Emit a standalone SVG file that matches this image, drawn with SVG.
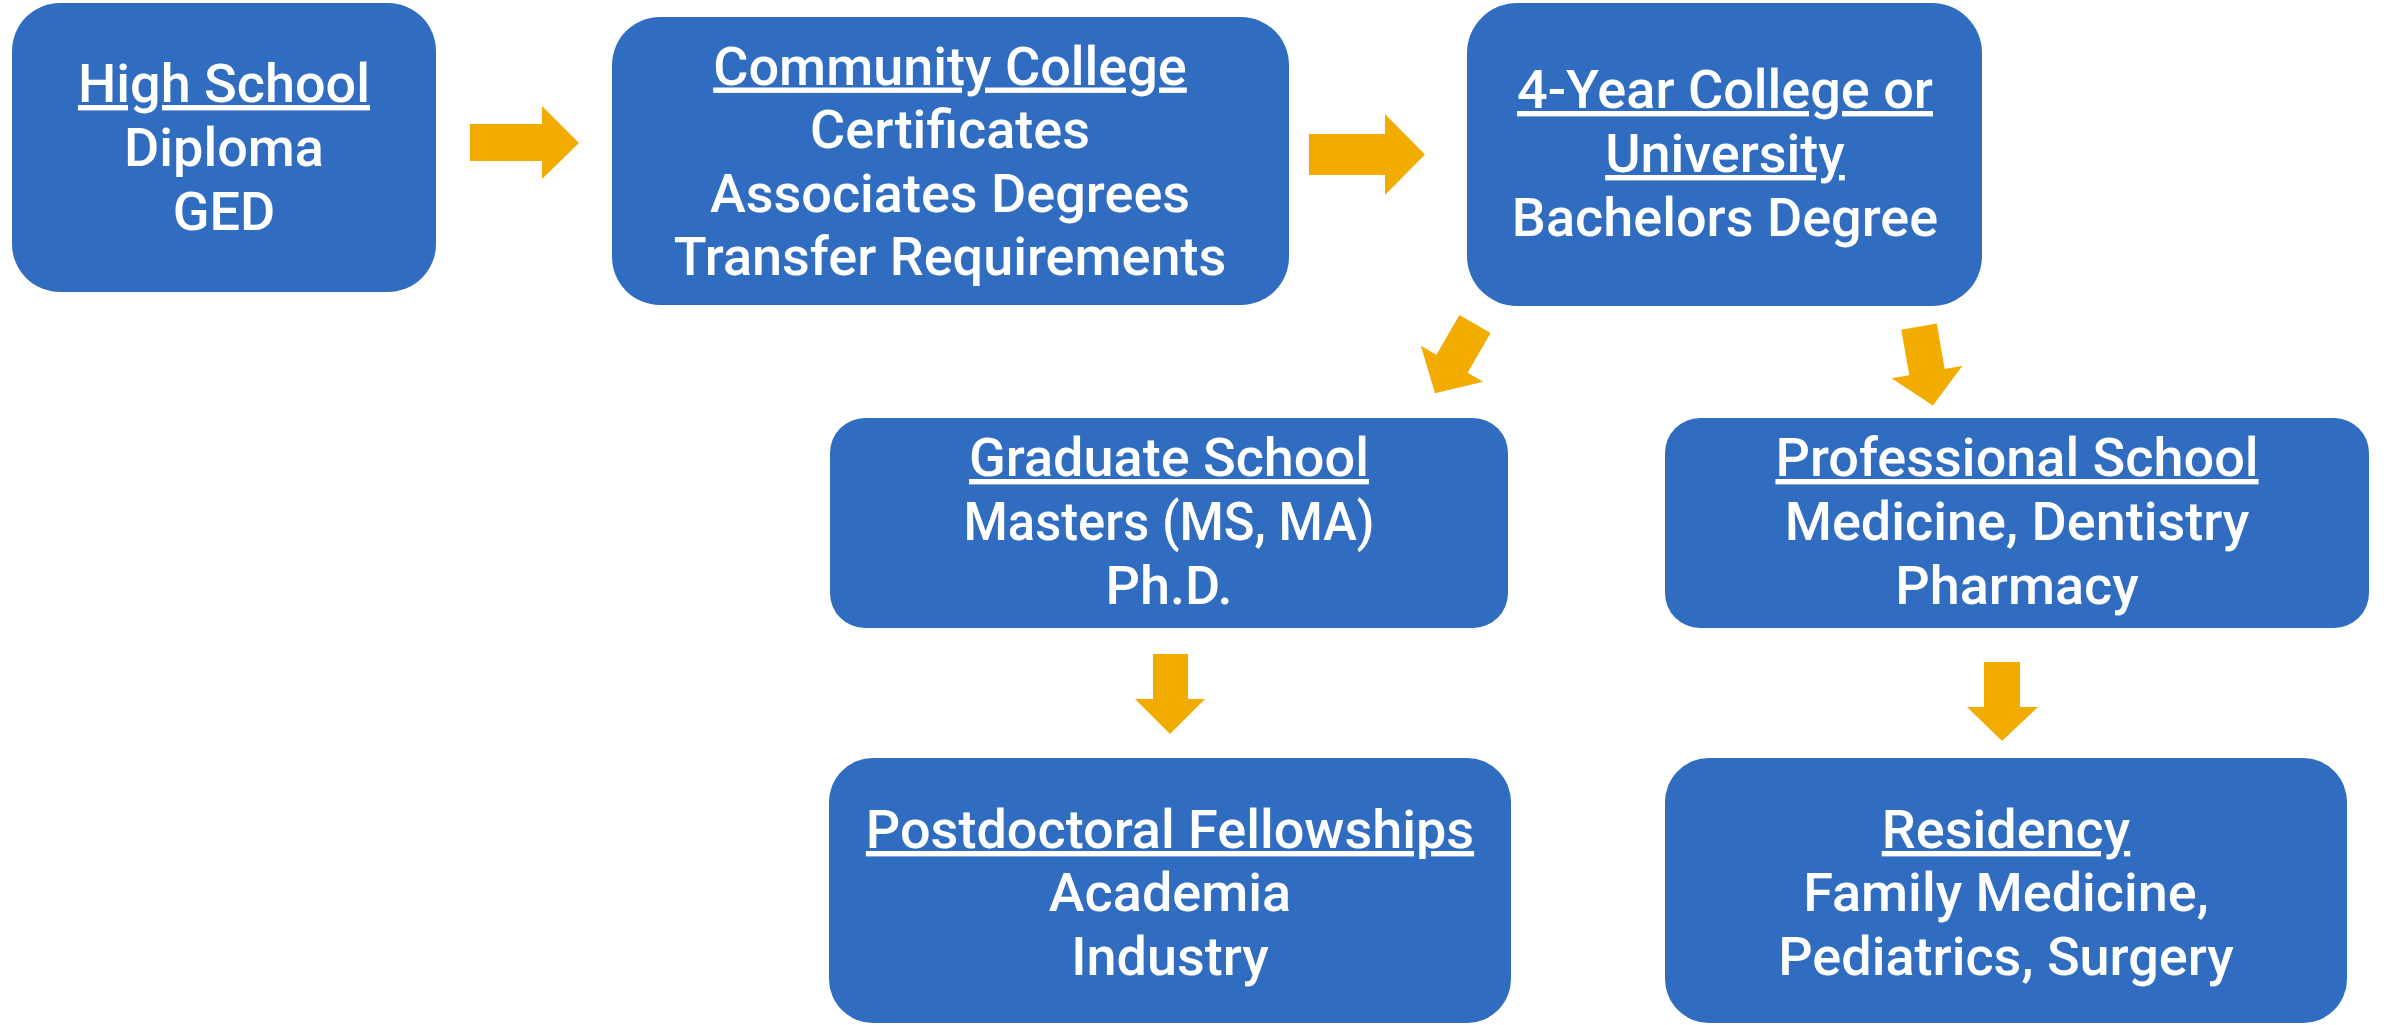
<svg xmlns="http://www.w3.org/2000/svg" width="2384" height="1025" viewBox="0 0 2384 1025">
  <style>
    .box { fill: #306DC1; }
    .arrow { fill: #F2AC00; }
    text { font-family: Roboto, "Liberation Sans", Arial, sans-serif; font-weight: 500; font-size: 54px; fill: #FFFFFF; text-anchor: middle; }
    .u { text-decoration: underline; }
  </style>
  <defs>
    <path id="darrow" d="M-18,0 H18 V46 H36 L0,80 L-36,46 H-18 Z"/>
  </defs>
  <rect width="2384" height="1025" fill="#FFFFFF"/>

  <g id="connectors">
    <path class="arrow" d="M470,124 H542 V106 L579,143 L542,179 V161 H470 Z"/>
    <path class="arrow" d="M1309,134 H1385 V114 L1425,154.5 L1385,195 V175 H1309 Z"/>
    <use class="arrow" href="#darrow" transform="translate(1475,324) rotate(30)"/>
    <use class="arrow" href="#darrow" transform="translate(1919,326.7) rotate(-10)"/>
    <path class="arrow" d="M1153,654 H1188 V699 H1205 L1170,734 L1135,699 H1153 Z"/>
    <path class="arrow" d="M1984,662 H2020 V707 H2038 L2002,741 L1967,707 H1984 Z"/>
  </g>

  <g id="high-school">
    <rect class="box" x="12" y="3" width="424" height="289" rx="48"/>
    <text x="224" y="102" class="u">High School</text>
    <text x="224" y="166">Diploma</text>
    <text x="224" y="230">GED</text>
  </g>

  <g id="community-college">
    <rect class="box" x="612" y="17" width="677" height="288" rx="48"/>
    <text x="950" y="84.5" class="u">Community College</text>
    <text x="950" y="148">Certificates</text>
    <text x="950" y="211.5">Associates Degrees</text>
    <text x="950" y="275">Transfer Requirements</text>
  </g>

  <g id="four-year-college">
    <rect class="box" x="1467" y="3" width="515" height="303" rx="50"/>
    <text x="1725" y="108" class="u">4-Year College or</text>
    <text x="1725" y="172" class="u">University</text>
    <text x="1725" y="236">Bachelors Degree</text>
  </g>

  <g id="graduate-school">
    <rect class="box" x="830" y="418" width="678" height="210" rx="35"/>
    <text x="1169" y="476" class="u">Graduate School</text>
    <text x="1169" y="540" textLength="411" lengthAdjust="spacingAndGlyphs">Masters (MS, MA)</text>
    <text x="1169" y="604">Ph.D.</text>
  </g>

  <g id="professional-school">
    <rect class="box" x="1665" y="418" width="704" height="210" rx="35"/>
    <text x="2017" y="476" class="u">Professional School</text>
    <text x="2017" y="540">Medicine, Dentistry</text>
    <text x="2017" y="604">Pharmacy</text>
  </g>

  <g id="postdoctoral">
    <rect class="box" x="829" y="758" width="682" height="265" rx="44"/>
    <text x="1170" y="848" class="u">Postdoctoral Fellowships</text>
    <text x="1170" y="911">Academia</text>
    <text x="1170" y="975">Industry</text>
  </g>

  <g id="residency">
    <rect class="box" x="1665" y="758" width="682" height="265" rx="44"/>
    <text x="2006" y="848" class="u">Residency</text>
    <text x="2006" y="911">Family Medicine,</text>
    <text x="2006" y="975">Pediatrics, Surgery</text>
  </g>
</svg>
